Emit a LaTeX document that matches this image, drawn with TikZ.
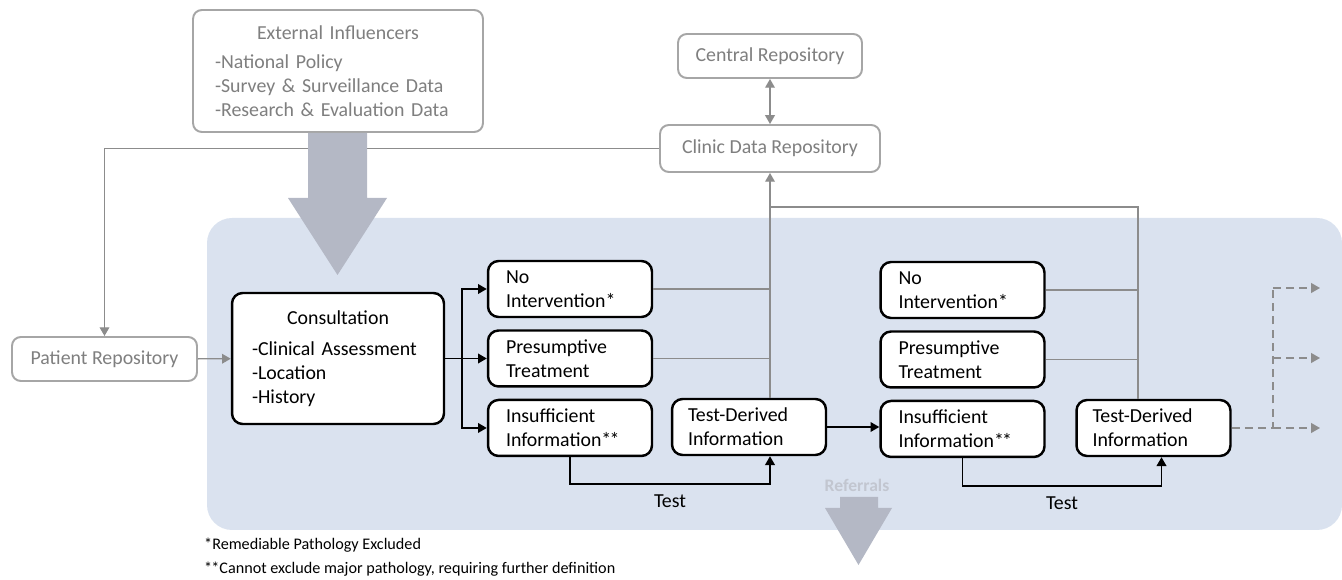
\documentclass[tikz,border=0pt]{standalone}
\usepackage{fontspec}
\setmainfont{Carlito}
\usepackage{tikz}
\usetikzlibrary{arrows.meta,positioning}

\definecolor{panelblue}{HTML}{DAE2EF}
\definecolor{repogray}{HTML}{A6A6A6}
\definecolor{repotext}{HTML}{7F7F7F}
\definecolor{linkgray}{HTML}{8C8C8C}
\definecolor{bigarrow}{HTML}{B4B8C5}
\definecolor{reftext}{HTML}{C2C6D0}

\begin{document}
\begin{tikzpicture}[x=0.02cm,y=-0.02cm,
    font=\fontsize{11.3}{13.7}\selectfont,
    >={Triangle[length=5pt,width=5.5pt]},
    node distance=1.39cm,on grid,
    repo/.style={draw=repogray,line width=1.1pt,rounded corners=5pt,
        text=repotext,fill=white,inner sep=0pt},
    stepbox/.style={draw=black,line width=1.4pt,rounded corners=6pt,fill=white,
        align=left,text width=2.56cm,inner xsep=0.36cm,inner ysep=0pt,
        minimum height=1.12cm},
    testbox/.style={stepbox,text width=2.44cm,inner xsep=0.32cm},
    link/.style={draw=linkgray,line width=0.8pt},
    flow/.style={draw=black,line width=0.9pt},
    outflow/.style={link,dashed,dash pattern=on 4.5pt off 3pt}]
   \useasboundingbox (0,0) rectangle (1342,580);
   % shaded clinic area
   \fill[panelblue,rounded corners=0.5cm] (207,218) rectangle (1342,530);

   % repositories and outside inputs
   \node [repo,minimum width=5.8cm,minimum height=2.44cm,align=left,
          text width=4.92cm,inner xsep=0.44cm] (ext) at (338,71)
         {\makebox[\hsize]{External Influencers}\\[3pt]
          -National Policy\\-Survey \& Surveillance Data\\-Research \& Evaluation Data};
   \node [repo,minimum width=3.68cm,minimum height=0.88cm] (central) at (770,56) {Central Repository};
   \node [repo,minimum width=4.4cm,minimum height=0.94cm] (cdr) at (770,148.5) {Clinic Data Repository};
   \node [repo,minimum width=3.7cm,minimum height=0.88cm] (patient) at (104.5,359) {Patient Repository};

   % first consultation round
   \node [stepbox,text width=3.44cm,inner xsep=0.4cm,minimum height=2.62cm] (consult) at (338,358.5)
         {\makebox[\hsize]{Consultation}\\[4pt]-Clinical Assessment\\-Location\\-History};
   \node [stepbox] (noint1) at (570,289) {No\\Intervention*};
   \node [stepbox,below=of noint1] (pres1) {Presumptive\\Treatment};
   \node [stepbox,below=of pres1] (ins1) {Insufficient\\Information*\kern-1pt*};
   \node [testbox] (td1) at (749,427) {Test-Derived\\Information};

   % second round
   \node [stepbox] (noint2) at (962.5,290) {No\\Intervention*};
   \node [stepbox,below=of noint2] (pres2) {Presumptive\\Treatment};
   \node [stepbox,below=of pres2] (ins2) {Insufficient\\Information*\kern-1pt*};
   \node [testbox] (td2) at (1153.5,428) {Test-Derived\\Information};

   \coordinate (up2) at (1138,207);
   \coordinate (fan) at (1273,428);
   \coordinate (out1) at (1320,288);
   \coordinate (out2) at (1320,358);
   \coordinate (out3) at (1320,428);

   % data flow between repositories
   \draw[link,<->] (central) -- (cdr);
   \draw[link,->] (cdr.west) -| (patient.north);
   \draw[link,->] (patient) -- (consult);

   % results reported back
   \draw[link] (noint1.east) -- (noint1.east -| cdr.south);
   \draw[link] (pres1.east) -- (pres1.east -| cdr.south);
   \draw[link,->] (cdr.south |- td1.north) -- (cdr.south);
   \draw[link] (noint2.east) -- (noint2.east -| up2);
   \draw[link] (pres2.east) -- (pres2.east -| up2);
   \draw[link] (td2.north -| up2) -- (up2) -- (up2 -| cdr.south);

   % consultation outcomes
   \draw[flow,->] (consult.east) -- ++(17,0) |- (noint1.west);
   \draw[flow,->] (consult.east) -- (consult.east -| pres1.west);
   \draw[flow,->] (consult.east) -- ++(17,0) |- (ins1.west);
   \draw[flow,->] (ins1.south) -- ++(0,27) -| (cdr.south |- td1.south)
        node[pos=0.25,below=2pt] {Test};
   \draw[flow,->] (td1.east) -- (td1.east -| ins2.west);
   \draw[flow,->] (ins2.south) -- ++(0,28) -| ([xshift=0.16cm]td2.south)
        node[pos=0.25,below=2pt] {Test};

   % further rounds
   \draw[outflow] (td2.east) -- (fan) -- (fan |- out1);
   \foreach \o in {out1,out2,out3}
      \draw[outflow,->] (fan |- \o) -- (\o);

   % block arrows
   \fill[bigarrow] (308,133) -- (308,198) -- (288,198) -- (337.5,275)
        -- (387,198) -- (367,198) -- (367,133) -- cycle;
   \node [text=reftext,font=\bfseries\fontsize{10}{12}\selectfont] (refs) at (857,485) {Referrals};
   \fill[bigarrow] (840,497) -- (840,508) -- (825,508) -- (858.5,565)
        -- (892,508) -- (878,508) -- (878,497) -- cycle;

   % footnotes
   \node [anchor=base west,font=\fontsize{9.2}{11}\selectfont] (note1) at (198,549) {*Remediable Pathology Excluded};
   \node [anchor=base west,font=\fontsize{9.2}{11}\selectfont] (note2) at (198,573) {*\kern-0.5pt*Cannot exclude major pathology, requiring further definition};
\end{tikzpicture}
\end{document}
